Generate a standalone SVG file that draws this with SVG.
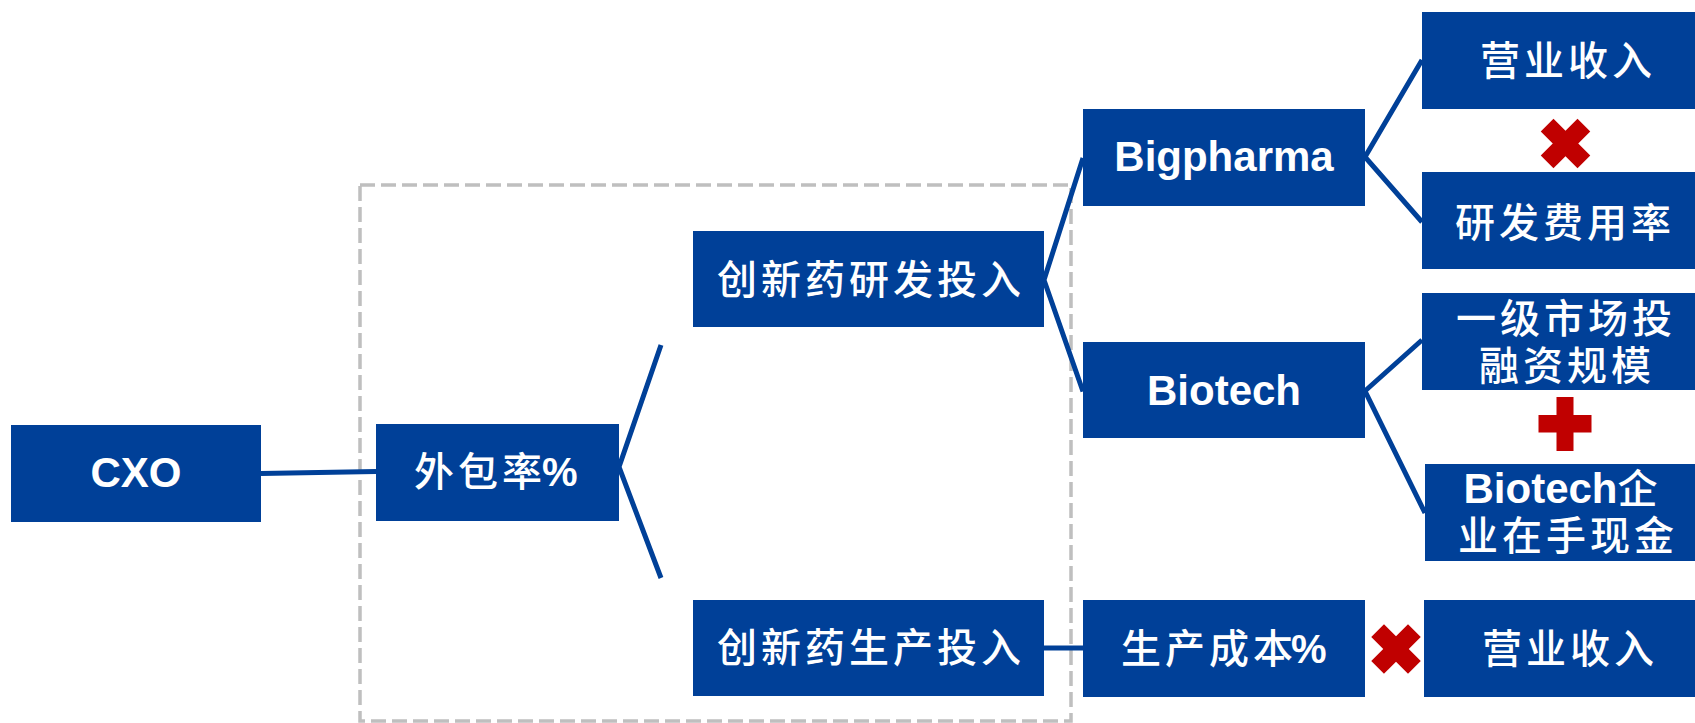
<svg xmlns="http://www.w3.org/2000/svg" width="1695" height="723" viewBox="0 0 1695 723">
  <style>
    .box { fill: #004098; }
    .cn { font-family: "Noto Sans CJK SC", sans-serif; font-size: 40px; font-weight: 500; fill: #ffffff; letter-spacing: 4px; }
    .en { font-family: "Liberation Sans", Arial, sans-serif; font-weight: bold; font-size: 42px; fill: #ffffff; }
    .pct { font-family: "Liberation Sans", Arial, sans-serif; font-weight: bold; font-size: 40px; letter-spacing: 0; }
    .cnt { font-family: "Noto Sans CJK SC", sans-serif; font-size: 40px; font-weight: 500; letter-spacing: 4px; }
    .ent { font-family: "Liberation Sans", Arial, sans-serif; font-weight: bold; font-size: 42px; letter-spacing: 0; }
    .conn { stroke: #004098; stroke-width: 5; fill: none; }
    .dash { stroke: #BFBFBF; stroke-width: 3.5; fill: none; stroke-dasharray: 15 6; }
    .red { fill: #C00000; }
  </style>
  <rect width="1695" height="723" fill="#ffffff"/>

  <g id="scope">
    <rect class="dash" x="360" y="185" width="711" height="536"/>
  </g>

  <g id="connectors">
    <path class="conn" d="M261 473.4 L376 471.6"/>
    <path class="conn" d="M661 345 L619 467 L661 578"/>
    <path class="conn" d="M1083 158 L1044 280 L1083 391.5"/>
    <path class="conn" d="M1044 648 L1083 648"/>
    <path class="conn" d="M1422 60 L1365 157 L1422 222"/>
    <path class="conn" d="M1422 340 L1365 391 L1425 513"/>
  </g>

  <g id="n-cxo">
    <rect class="box" x="11" y="425" width="250" height="97"/>
    <text class="en" x="136" y="487" text-anchor="middle">CXO</text>
  </g>
  <g id="n-outsourcing">
    <rect class="box" x="376" y="424" width="243" height="97"/>
    <text class="cn" x="414" y="486">外包率<tspan class="pct" x="542">%</tspan></text>
  </g>
  <g id="n-rd-input">
    <rect class="box" x="693" y="231" width="351" height="96"/>
    <text class="cn" x="717" y="294">创新药研发投入</text>
  </g>
  <g id="n-prod-input">
    <rect class="box" x="693" y="600" width="351" height="96"/>
    <text class="cn" x="717" y="662">创新药生产投入</text>
  </g>
  <g id="n-bigpharma">
    <rect class="box" x="1083" y="109" width="282" height="97"/>
    <text class="en" x="1224" y="171" text-anchor="middle">Bigpharma</text>
  </g>
  <g id="n-biotech">
    <rect class="box" x="1083" y="342" width="282" height="96"/>
    <text class="en" x="1224" y="405" text-anchor="middle">Biotech</text>
  </g>
  <g id="n-prod-cost">
    <rect class="box" x="1083" y="600" width="282" height="97"/>
    <text class="cn" x="1121" y="662.5">生产成本<tspan class="pct" x="1291">%</tspan></text>
  </g>
  <g id="n-revenue-1">
    <rect class="box" x="1422" y="12" width="290" height="97"/>
    <text class="cn" x="1480" y="75">营业收入</text>
  </g>
  <g id="n-rd-ratio">
    <rect class="box" x="1422" y="172" width="290" height="97"/>
    <text class="cn" x="1455" y="237">研发费用率</text>
  </g>
  <g id="n-primary-market">
    <rect class="box" x="1422" y="293" width="290" height="97"/>
    <text class="cn"><tspan x="1456" y="332.5">一级市场投</tspan><tspan x="1479" y="380">融资规模</tspan></text>
  </g>
  <g id="n-biotech-cash">
    <rect class="box" x="1425" y="464" width="290" height="97"/>
    <text fill="#ffffff"><tspan class="ent" x="1463.5" y="503">Biotech</tspan><tspan class="cnt">企</tspan><tspan class="cnt" x="1458" y="550">业在手现金</tspan></text>
  </g>
  <g id="n-revenue-2">
    <rect class="box" x="1424" y="600" width="290" height="97"/>
    <text class="cn" x="1482" y="662.5">营业收入</text>
  </g>

  <g id="op-times-1" transform="translate(1565.5 143.5)">
    <rect class="red" x="-26" y="-9" width="52" height="18" transform="rotate(45)"/>
    <rect class="red" x="-26" y="-9" width="52" height="18" transform="rotate(-45)"/>
  </g>
  <g id="op-plus">
    <rect class="red" x="1538.5" y="415" width="53" height="17.5"/>
    <rect class="red" x="1556.5" y="397" width="17" height="54"/>
  </g>
  <g id="op-times-2" transform="translate(1396 649)">
    <rect class="red" x="-26" y="-9" width="52" height="18" transform="rotate(45)"/>
    <rect class="red" x="-26" y="-9" width="52" height="18" transform="rotate(-45)"/>
  </g>
</svg>
